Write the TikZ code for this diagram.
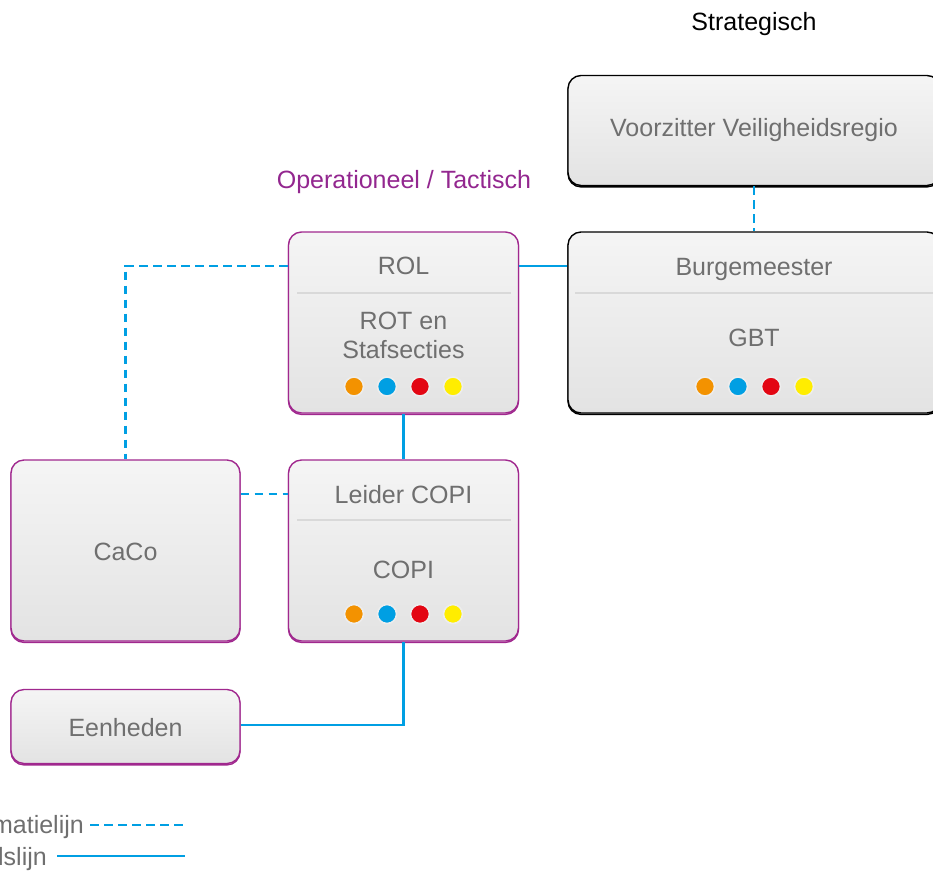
\documentclass[tikz,border=0pt]{standalone}
\usepackage{fontspec}
\setmainfont{Liberation Sans}
\definecolor{txtgrey}{HTML}{6F6F6F}
\definecolor{lineblue}{HTML}{009FE3}
\definecolor{purp}{HTML}{A0288E}
\definecolor{purptxt}{HTML}{93278F}
\definecolor{dorange}{HTML}{F39200}
\definecolor{dblue}{HTML}{009FE3}
\definecolor{dred}{HTML}{E30613}
\definecolor{dyellow}{HTML}{FFED00}
\definecolor{sepgrey}{HTML}{D9D9D9}
\tikzset{
  box/.style={rectangle, rounded corners=13pt, draw=#1, line width=1.4pt,
    top color=white!96!black, bottom color=black!11,
    preaction={draw=#1, line width=1.4pt, transform canvas={yshift=-1.4pt}}},
  lbl/.style={inner sep=0pt, anchor=base, text=txtgrey, font=\fontsize{25}{30}\selectfont},
  sep/.style={draw=sepgrey, line width=1.4pt},
  cmd/.style={draw=lineblue, line width=2.5pt},
  info/.style={draw=lineblue, line width=2.5pt, dash pattern=on 8.5pt off 5.5pt},
  dotc/.style={circle, inner sep=0pt, minimum size=19pt, fill=#1, draw=white!93!black, line width=1.6pt},
}
\begin{document}
\begin{tikzpicture}[x=1pt,y=-1pt]
\useasboundingbox (0,0) rectangle (933,876);
\clip (0,0) rectangle (933,876);
% headings
\node[lbl, text=black] (strat) at (754,30) {Strategisch};
\node[lbl, text=purptxt] (oper) at (404,188) {Operationeel / Tactisch};
% boxes
\node[box=black, minimum width=372pt, minimum height=110pt] (vz) at (754,130.5) {};
\node[box=black, minimum width=372pt, minimum height=181pt] (burg) at (754,322.5) {};
\node[box=purp, minimum width=230pt, minimum height=181pt] (rol) at (403.5,322.5) {};
\node[box=purp, minimum width=230pt, minimum height=181pt] (leider) at (403.5,550.5) {};
\node[box=purp, minimum width=229pt, minimum height=181pt] (caco) at (125.5,550.5) {};
\node[box=purp, minimum width=229pt, minimum height=74pt] (eenh) at (125.5,726.5) {};
% texts
\node[lbl] (vzt) at (754,136) {Voorzitter Veiligheidsregio};
\node[lbl] (burgt) at (754,275) {Burgemeester};
\node[lbl] (gbt) at (754,346) {GBT};
\node[lbl] (rolt) at (403.5,274) {ROL};
\node[lbl] (rott) at (403.5,329) {ROT en};
\node[lbl] (staft) at (403.5,358) {Stafsecties};
\node[lbl] (leidt) at (403.5,503) {Leider COPI};
\node[lbl] (copit) at (403.5,578) {COPI};
\node[lbl] (cacot) at (125.5,560) {CaCo};
\node[lbl] (eenht) at (125.5,736) {Eenheden};
% separators
\draw[sep] (297,293) -- (511,293);
\draw[sep] (297,520) -- (511,520);
\draw[sep] (575,293) -- (933,293);
% dots
\foreach \n/\c/\x in {1/dorange/354,2/dblue/387,3/dred/420,4/dyellow/453}{
  \node[dotc=\c] (rd\n) at (\x,386.5) {};
  \node[dotc=\c] (ld\n) at (\x,614) {};
}
\foreach \n/\c/\x in {1/dorange/705,2/dblue/738,3/dred/771,4/dyellow/804}{
  \node[dotc=\c] (bd\n) at (\x,386.5) {};
}
% connectors
\draw[info] (vz.south) -- (burg.north);
\draw[cmd] (rol.east |- 0,266) -- (burg.west |- 0,266);
\draw[info] (rol.west |- 0,266) -| (caco.north);
\draw[cmd] (rol.south) -- (leider.north);
\draw[info] (caco.east |- 0,494) -- (leider.west |- 0,494);
\draw[cmd] (leider.south) |- (eenh.east |- 0,725);
% legend
\node[lbl, anchor=base east] (linfo) at (84,833) {Informatielijn};
\node[lbl, anchor=base east] (lbev) at (47,865) {Bevelslijn};
\coordinate (infoend) at (185,825);
\coordinate (bevend) at (185,856);
\draw[info] ([xshift=6pt]linfo.east |- infoend) -- (infoend);
\draw[cmd] ([xshift=10pt]lbev.east |- bevend) -- (bevend);
\end{tikzpicture}
\end{document}
